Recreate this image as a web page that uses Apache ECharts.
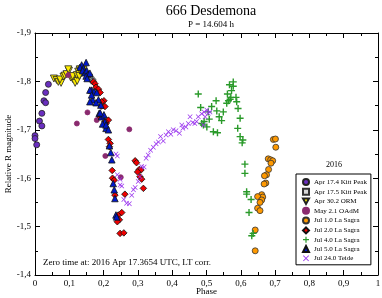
<!DOCTYPE html>
<html><head><meta charset="utf-8">
<script src="https://cdn.jsdelivr.net/npm/echarts@6/dist/echarts.min.js"></script>
<style>html,body{margin:0;padding:0;background:#fff}#c{width:382px;height:298px}</style>
</head><body><div id="c"></div>
<script>
// ---- data: [phase, relative R magnitude] ----
const seriesNames = ["Apr 17.4 Kitt Peak","Apr 17.5 Kitt Peak","Apr 30.2 ORM","May 2.1 OAdM","Jul 1.0 La Sagra","Jul 2.0 La Sagra","Jul 4.0 La Sagra","Jul 5.0 La Sagra","Jul 24.0 Teide"];
const apr174 = [[0.039,-1.794],[0.031,-1.777],[0.026,-1.760],[0.031,-1.756],[0.020,-1.734],[0.013,-1.718],[0.020,-1.708],[0.000,-1.688],[0.000,-1.682],[0.005,-1.669]];
const apr175 = [[0.165,-1.804],[0.160,-1.810],[0.128,-1.826],[0.170,-1.800]];
const apr302 = [[0.055,-1.806],[0.063,-1.803],[0.068,-1.799],[0.076,-1.797],[0.073,-1.804],[0.083,-1.810],[0.087,-1.812],[0.092,-1.815],[0.099,-1.822],[0.104,-1.808],[0.110,-1.805],[0.117,-1.797],[0.123,-1.801],[0.110,-1.811],[0.122,-1.813],[0.126,-1.820],[0.131,-1.825],[0.136,-1.817],[0.141,-1.824],[0.129,-1.811],[0.097,-1.825]];
const may21 = [[0.097,-1.813],[0.122,-1.713],[0.153,-1.736],[0.180,-1.720],[0.205,-1.646],[0.250,-1.602],[0.275,-1.701]];
const jul10 = [[0.695,-1.680],[0.701,-1.681],[0.702,-1.664],[0.680,-1.640],[0.687,-1.638],[0.693,-1.636],[0.688,-1.631],[0.681,-1.618],[0.675,-1.607],[0.669,-1.605],[0.673,-1.590],[0.668,-1.588],[0.661,-1.566],[0.664,-1.561],[0.649,-1.562],[0.661,-1.555],[0.656,-1.550],[0.649,-1.538],[0.656,-1.533],[0.642,-1.493],[0.642,-1.450]];
const jul20 = [[0.170,-1.799],[0.175,-1.795],[0.178,-1.788],[0.185,-1.784],[0.190,-1.777],[0.201,-1.760],[0.194,-1.749],[0.214,-1.720],[0.207,-1.713],[0.214,-1.680],[0.217,-1.665],[0.225,-1.616],[0.226,-1.600],[0.231,-1.596],[0.233,-1.565],[0.262,-1.567],[0.292,-1.636],[0.296,-1.632],[0.304,-1.618],[0.309,-1.617],[0.299,-1.613],[0.306,-1.603],[0.311,-1.598],[0.316,-1.579],[0.243,-1.524],[0.253,-1.529],[0.246,-1.514],[0.240,-1.510],[0.248,-1.486],[0.259,-1.487],[0.194,-1.758],[0.204,-1.748],[0.190,-1.727],[0.204,-1.717],[0.219,-1.672]];
const jul40 = [[0.476,-1.774],[0.483,-1.746],[0.505,-1.737],[0.515,-1.748],[0.508,-1.722],[0.491,-1.710],[0.501,-1.706],[0.528,-1.760],[0.530,-1.739],[0.537,-1.727],[0.544,-1.719],[0.549,-1.737],[0.559,-1.755],[0.564,-1.760],[0.567,-1.793],[0.578,-1.799],[0.578,-1.790],[0.573,-1.781],[0.561,-1.774],[0.571,-1.767],[0.569,-1.763],[0.586,-1.767],[0.588,-1.758],[0.592,-1.744],[0.598,-1.724],[0.591,-1.703],[0.598,-1.686],[0.606,-1.679],[0.604,-1.673],[0.612,-1.629],[0.612,-1.610],[0.617,-1.572],[0.520,-1.696],[0.532,-1.694],[0.493,-1.717],[0.486,-1.713],[0.617,-1.567],[0.630,-1.556],[0.624,-1.529],[0.636,-1.486],[0.632,-1.481]];
const jul50 = [[0.149,-1.839],[0.136,-1.834],[0.131,-1.829],[0.141,-1.827],[0.139,-1.822],[0.146,-1.818],[0.151,-1.822],[0.155,-1.815],[0.160,-1.817],[0.149,-1.811],[0.152,-1.806],[0.165,-1.782],[0.172,-1.779],[0.168,-1.762],[0.160,-1.758],[0.180,-1.777],[0.185,-1.762],[0.192,-1.751],[0.187,-1.734],[0.194,-1.727],[0.201,-1.731],[0.204,-1.717],[0.197,-1.712],[0.207,-1.703],[0.160,-1.782],[0.165,-1.772],[0.178,-1.756],[0.190,-1.735],[0.207,-1.710],[0.214,-1.700],[0.217,-1.667],[0.221,-1.653],[0.224,-1.638],[0.228,-1.589],[0.231,-1.576],[0.233,-1.558],[0.236,-1.524],[0.238,-1.520]];
const jul240 = [[0.311,-1.624],[0.324,-1.641],[0.330,-1.648],[0.337,-1.658],[0.345,-1.664],[0.353,-1.671],[0.360,-1.675],[0.366,-1.686],[0.374,-1.677],[0.382,-1.689],[0.389,-1.696],[0.396,-1.691],[0.403,-1.700],[0.411,-1.698],[0.421,-1.693],[0.428,-1.710],[0.431,-1.703],[0.440,-1.706],[0.447,-1.713],[0.452,-1.727],[0.460,-1.715],[0.466,-1.713],[0.471,-1.717],[0.476,-1.727],[0.486,-1.733],[0.493,-1.737],[0.501,-1.741],[0.505,-1.734],[0.510,-1.737],[0.496,-1.727],[0.491,-1.710],[0.236,-1.650],[0.240,-1.646],[0.240,-1.607],[0.248,-1.586],[0.253,-1.584],[0.259,-1.556],[0.267,-1.548],[0.275,-1.547],[0.282,-1.565],[0.287,-1.576],[0.292,-1.581],[0.301,-1.593],[0.306,-1.603],[0.318,-1.623],[0.248,-1.598]];
const xTicks = [0,0.1,0.2,0.3,0.4,0.5,0.6,0.7,0.8,0.9,1];
const yTicks = [-1.9,-1.8,-1.7,-1.6,-1.5,-1.4];

const font = "'Liberation Serif', 'DejaVu Serif', serif";
const fmt = v => String(+(+v).toFixed(2)).replace('.', ',');
const PLUS = 'path://M4,0h2v10h-2zM0,4h10v2h-10z';
const CROSS = 'path://M1,0L5,4L9,0L10,1L6,5L10,9L9,10L5,6L1,10L0,9L4,5L0,1Z';
const DOWNTRI = 'path://M0,0L10,0L5,9Z';

const styles = [
  {symbol:'circle', size:6, color:'#6a2fc0', border:'#222'},
  {symbol:'rect', size:5, color:'#d8d8d8', border:'#333'},
  {symbol:DOWNTRI, size:7, color:'#ffee00', border:'#222'},
  {symbol:'circle', size:5, color:'#8a2a6e', border:'#8a2a6e'},
  {symbol:'circle', size:6, color:'#ff9900', border:'#333'},
  {symbol:'diamond', size:6.5, color:'#ee0000', border:'#111'},
  {symbol:PLUS, size:7, color:'#2a9a2a', border:null},
  {symbol:'triangle', size:6.5, color:'#0018cc', border:'#111'},
  {symbol:CROSS, size:5, color:'#9933ee', border:null}
];
const datasets = [apr174, apr175, apr302, may21, jul10, jul20, jul40, jul50, jul240];

const series = datasets.map((d, i) => {
  const s = styles[i];
  return {
    name: seriesNames[i], type: 'scatter', data: d,
    symbol: s.symbol, symbolSize: s.size,
    itemStyle: {color: s.color, borderColor: s.border || s.color, borderWidth: s.border ? 0.8 : 0, opacity: 1},
    emphasis: {disabled: true}, animation: false, z: 2 + i
  };
});

const chart = echarts.init(document.getElementById('c'), null, {renderer: 'canvas'});
const axisCommon = {
  type: 'value', interval: 0.1,
  axisLine: {show: true, onZero: false, lineStyle: {color: '#000', width: 1}},
  axisTick: {show: true, inside: true, length: 5, lineStyle: {color: '#000'}},
  minorTick: {show: true, splitNumber: 2, length: 3, lineStyle: {color: '#000'}},
  splitLine: {show: false},
};
chart.setOption({
  backgroundColor: '#fff',
  animation: false,
  textStyle: {fontFamily: font},
  title: [
    {text: '666 Desdemona', left: 206, top: -1, textAlign: 'center', textStyle: {fontFamily: font, fontSize: 14, fontWeight: 'normal', color: '#000'}},
    {text: 'P = 14.604 h', left: 206, top: 15, textAlign: 'center', textStyle: {fontFamily: font, fontSize: 9, fontWeight: 'normal', color: '#000'}}
  ],
  grid: {left: 35, right: 4, top: 33, bottom: 23, containLabel: false, outerBoundsMode: 'none'},
  xAxis: [
    Object.assign({}, axisCommon, {position: 'bottom', min: xTicks[0], max: xTicks[xTicks.length-1],
      name: 'Phase', nameLocation: 'middle', nameGap: 12, nameMoveOverlap: false, nameTextStyle: {fontFamily: font, fontSize: 9, color: '#000'},
      axisLabel: {formatter: fmt, fontFamily: font, fontSize: 9, color: '#000', margin: 4}}),
    Object.assign({}, axisCommon, {position: 'top', min: xTicks[0], max: xTicks[xTicks.length-1], axisLabel: {show: false}})
  ],
  yAxis: [
    Object.assign({}, axisCommon, {position: 'left', inverse: true, min: yTicks[0], max: yTicks[yTicks.length-1],
      name: 'Relative R magnitude', nameLocation: 'middle', nameGap: 22, nameMoveOverlap: false, nameTextStyle: {fontFamily: font, fontSize: 9, color: '#000'},
      axisLabel: {formatter: fmt, fontFamily: font, fontSize: 9, color: '#000', margin: 4}}),
    Object.assign({}, axisCommon, {position: 'right', inverse: true, min: yTicks[0], max: yTicks[yTicks.length-1], axisLabel: {show: false}})
  ],
  legend: {
    orient: 'vertical', left: 296, top: 174,
    data: seriesNames,
    itemWidth: 6, itemHeight: 6, itemGap: 1.8,
    padding: [4, 4, 3, 6],
    borderColor: '#000', borderWidth: 1, backgroundColor: '#fff',
    textStyle: {fontFamily: font, fontSize: 7, lineHeight: 7, color: '#000'},
    selectedMode: false
  },
  graphic: [
    {type: 'text', left: 43, top: 258, style: {text: 'Zero time at: 2016 Apr 17.3654 UTC, LT corr.', font: '9px ' + font, fill: '#000'}},
    {type: 'text', left: 326, top: 161, style: {text: '2016', font: '8px ' + font, fill: '#000'}}
  ],
  series: series
});
</script></body></html>
